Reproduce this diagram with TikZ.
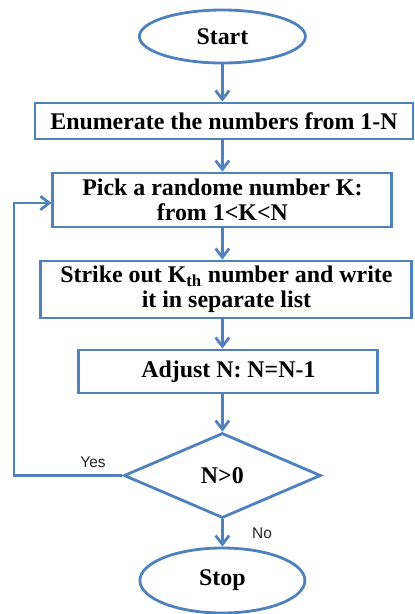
\documentclass[tikz,border=0pt]{standalone}
\usepackage{fontspec}
\setmainfont{Liberation Serif}
\newfontfamily\labelfont{Liberation Sans}
\usetikzlibrary{shapes.geometric, arrows.meta}
\definecolor{flowblue}{RGB}{79,129,189}

\begin{document}
\begin{tikzpicture}[align=center, font=\fontsize{17}{18}\selectfont\bfseries,
    box/.style={draw=flowblue, line width=2pt, inner sep=0},
    term/.style={box, ellipse},
    arr/.style={draw=flowblue, line width=2pt, -{Straight Barb[length=2.2mm,width=3.4mm]}},
    lbl/.style={font=\labelfont\fontsize{11}{13}\selectfont, text=black!85}]
      \useasboundingbox (0,0) rectangle (10.35,-15.35);

      \node[term, minimum width=4.15cm, minimum height=1.325cm] (Start) at (5.56,-0.9125) {Start};
      \node[box, minimum width=9.45cm, minimum height=0.9cm] (Enum) at (5.6,-3.025) {Enumerate the numbers from 1-N};
      \node[box, minimum width=8.475cm, minimum height=1.35cm] (Pick) at (5.56,-5.0) {Pick a randome number K:\\ from 1<K<N};
      \node[box, minimum width=9.275cm, minimum height=1.425cm] (Strike) at (5.66,-7.2375) {Strike out K\textsubscript{th} number and write\\ it in separate list};
      \node[box, minimum width=7.475cm, minimum height=1.075cm] (Adj) at (5.71,-9.2875) {Adjust N: N=N-1};
      \node[box, diamond, minimum width=4.925cm, minimum height=2.125cm] (Dec) at (5.56,-11.8875) {N>0};
      \node[term, minimum width=4.125cm, minimum height=1.625cm] (Stop) at (5.56,-14.5125) {Stop};

      \node[lbl] (Yes) at (2.325,-11.55) {Yes};
      \node[lbl] (No) at (6.55,-13.325) {No};

      \coordinate (Loop1) at (0.35,-11.8875);
      \coordinate (Loop2) at (0.35,-5.075);

      \draw[arr] (Start) -- (Start |- Enum.north);
      \draw[arr] (Enum.south -| Pick) -- (Pick);
      \draw[arr] (Pick) -- (Pick |- Strike.north);
      \draw[arr] (Strike.south -| Pick) -- (Pick |- Adj.north);
      \draw[arr] (Adj.south -| Pick) -- (Dec);
      \draw[arr] (Dec) -- (Stop);
      \draw[arr] (Dec.west) -- (Loop1) -- (Loop2) -- (Loop2 -| Pick.west);
    \end{tikzpicture}
\end{document}
